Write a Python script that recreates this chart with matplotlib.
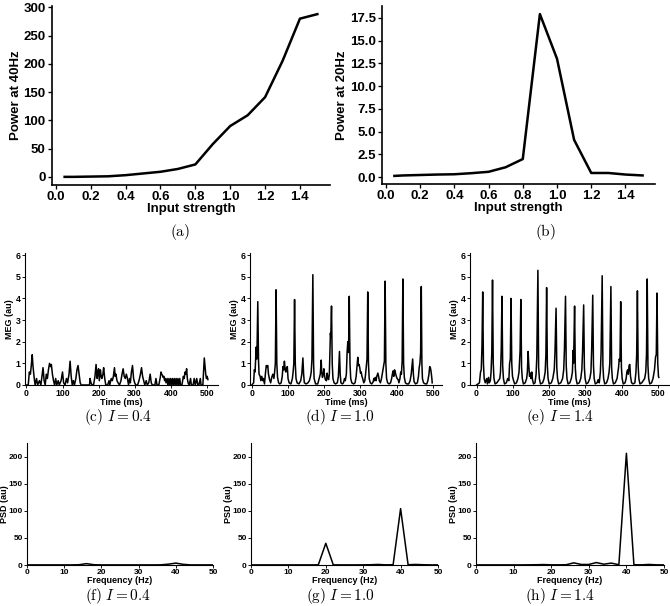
import matplotlib
matplotlib.use('Agg')
import matplotlib.pyplot as plt

plt.rcParams['font.family'] = ['Liberation Sans', 'DejaVu Sans']
plt.rcParams['font.weight'] = 'bold'
plt.rcParams['axes.labelweight'] = 'bold'
plt.rcParams['mathtext.fontset'] = 'cm'

# (a), (b): power vs input strength
input_strength = [0.05, 0.1, 0.2, 0.3, 0.4, 0.5, 0.6, 0.7, 0.8, 0.9, 1.0, 1.1, 1.2, 1.3, 1.4, 1.5]
power_40hz = [0, 0, 0.5, 1, 3, 6, 9, 14, 22, 58, 90, 109, 141, 205, 280, 288]
power_20hz = [0.15, 0.2, 0.25, 0.3, 0.33, 0.45, 0.6, 1.1, 2.0, 17.9, 13.0, 4.1, 0.47, 0.47, 0.3, 0.2]

# (c)-(e): MEG traces, (time ms, value au) vertices
meg_04 = [(0, 0), (5, 0), (8, 0.6), (11, 0.5), (14, 1.0), (16, 1.4), (18, 0.9), (21, 0.4), (24, 0),
          (28, 0.3), (31, 0), (36, 0.2), (40, 0), (43, 0.4), (46, 0.8), (49, 0.2), (52, 0), (55, 0.5),
          (58, 0.3), (61, 0.7), (64, 1.0), (67, 0.85), (69, 0.95), (72, 0.5), (75, 0.2), (78, 0),
          (81, 0.3), (84, 0), (88, 0.2), (91, 0), (96, 0.2), (100, 0.6), (103, 0.1), (107, 0),
          (111, 0.3), (114, 0.1), (118, 0.5), (121, 1.1), (124, 0.4), (127, 0), (130, 0.2), (133, 0),
          (137, 0.3), (140, 0.7), (143, 0.9), (146, 0.5), (149, 0.1), (152, 0), (175, 0), (176, 0.3),
          (179, 0.1), (182, 0), (186, 0), (190, 0.4), (193, 0.95), (196, 0.3), (198, 0.6), (200, 0.75),
          (202, 0.2), (205, 0.7), (207, 0.4), (209, 0.3), (212, 0.5), (214, 0.8), (217, 0.3), (220, 0),
          (225, 0), (229, 0.2), (231, 0), (235, 0.3), (238, 0.2), (241, 0.4), (244, 0.8), (246, 0.4),
          (248, 0.5), (251, 0.2), (254, 0.1), (258, 0), (262, 0.2), (265, 0.5), (268, 0.75), (271, 0.4),
          (274, 0.3), (277, 0.5), (280, 0.3), (283, 0), (286, 0.3), (288, 0.1), (291, 0.6), (294, 0.9),
          (297, 0.3), (300, 0.1), (303, 0), (308, 0), (312, 0.2), (316, 0.5), (319, 0.8), (322, 0.4),
          (325, 0.2), (328, 0), (332, 0.2), (335, 0), (339, 0.1), (343, 0.5), (346, 0.1), (349, 0),
          (356, 0), (359, 0.3), (362, 0), (367, 0), (371, 0.35), (373, 0.6), (375, 0.5), (377, 0.45),
          (379, 0.35), (381, 0.4), (383, 0.2), (385, 0.3), (387, 0.1), (390, 0.3), (392, 0), (395, 0.3),
          (397, 0), (400, 0.3), (402, 0), (405, 0.3), (407, 0), (410, 0.3), (412, 0), (415, 0.3),
          (417, 0), (420, 0.3), (422, 0), (425, 0.3), (427, 0), (431, 0), (435, 0.4), (437, 0.3),
          (440, 0.6), (442, 0.5), (444, 0.75), (446, 0.3), (448, 0.1), (451, 0), (455, 0.3), (457, 0),
          (462, 0), (465, 0.3), (468, 0), (472, 0.3), (475, 0), (478, 0), (482, 0.3), (484, 0),
          (489, 0), (491, 0.6), (493, 1.25), (495, 0.9), (497, 0.5), (499, 0.3), (501, 0.4), (503, 0.25)]

meg_10 = [(0, 0), (5, 0.1), (7, 0.7), (9, 0.6), (12, 1.75), (14, 1.2), (16.5, 3.85), (18.5, 1.15), (20, 0.5),
          (23, 0.4), (25, 0.2), (27.5, 0.4), (30, 0.2), (32, 0.3), (35, 0.05), (38, 0.6), (40, 0.9),
          (42, 0.85), (44, 0.9), (46, 0.5), (49, 0.25), (52, 0.1), (55, 0.35), (58, 0.5), (61, 0.3),
          (63, 0.6), (65, 1.0), (67, 4.4), (69, 1.0), (71, 0.35), (74, 0.1), (77, 0.05), (81, 0.1),
          (84, 0.4), (86, 0.85), (88, 0.7), (90, 1.1), (92, 0.7), (94, 0.6), (96, 0.8), (98, 0.85),
          (100, 0.3), (103, 0.1), (108, 0.05), (112, 0.3), (114, 0.6), (116, 1.0), (118, 3.95),
          (120, 1.0), (122, 0.3), (125, 0.1), (130, 0.05), (135, 0.2), (138, 0.5), (141, 1.25),
          (143, 0.5), (145, 0.1), (150, 0.05), (155, 0.1), (159, 0.2), (162, 0.4), (164, 0.6),
          (166, 1.2), (168.5, 5.1), (170.5, 1.0), (172, 0.3), (176, 0.05), (182, 0.05), (186, 0.3),
          (189, 0.5), (191.5, 1.15), (193, 0.6), (195, 0.35), (197, 0.5), (199, 0.75), (201, 0.4),
          (203, 0.25), (206, 0.2), (208, 0.55), (210, 0.3), (212, 0.25), (214, 0.5), (217, 2.4),
          (218, 2.2), (220, 3.65), (222, 1.0), (224, 0.3), (227, 0.1), (231, 0.05), (236, 0.1),
          (239, 0.4), (242, 1.55), (244, 0.5), (246, 0.1), (250, 0.05), (253, 0.1), (256, 0.3),
          (258, 0.2), (261, 0.5), (263, 1.5), (265, 2.0), (267, 1.5), (269, 4.1), (271, 1.0),
          (273, 0.3), (276, 0.1), (281, 0.05), (285, 0.1), (288, 0.4), (290, 0.8), (292.5, 1.28),
          (294, 0.9), (296, 0.95), (298, 0.8), (300, 0.55), (302, 0.6), (304, 0.4), (306, 0.3),
          (309, 0.1), (312, 0.2), (314, 0.5), (316, 0.85), (318, 1.2), (320, 4.3), (322, 1.0),
          (324, 0.3), (327, 0.1), (331, 0.05), (335, 0.15), (337, 0.3), (339, 0.2), (341, 0.35),
          (343, 0.2), (345, 0.4), (348, 0.55), (350, 0.4), (352, 0.2), (355, 0.1), (358, 0.3),
          (361, 0.6), (364, 0.9), (366, 1.1), (368, 4.8), (370, 1.0), (372, 0.3), (375, 0.1),
          (379, 0.05), (383, 0.1), (386, 0.3), (388, 0.5), (390, 0.65), (392, 0.4), (394, 0.7),
          (396, 0.6), (398, 0.45), (401, 0.3), (404, 0.25), (406, 0.1), (409, 0.3), (411, 0.6),
          (413, 0.5), (415, 1.1), (417, 4.9), (419, 1.0), (421, 0.35), (424, 0.1), (428, 0.05),
          (433, 0.05), (437, 0.2), (440, 0.5), (442, 0.85), (444, 1.2), (446, 0.5), (448, 0.15),
          (452, 0.05), (457, 0.1), (460, 0.4), (462, 0.8), (464, 1.0), (466, 1.5), (467.8, 4.55),
          (469.5, 1.0), (471, 0.3), (474, 0.1), (479, 0.05), (483, 0.05), (486, 0.2), (489, 0.5),
          (491, 0.85), (493, 0.8), (495, 0.6), (497, 0.3), (498, 0.1)]

meg_14 = [(0, 0), (8, 0.1), (11, 0.6), (13, 0.7), (15, 1.8), (17, 4.3), (19, 1.0), (21, 0.3), (24, 0.1),
          (28, 0.3), (30, 0.05), (33, 0.35), (35, 0.1), (38, 0.2), (40, 0.6), (42, 1.5), (44, 4.85),
          (46, 1.0), (48, 0.3), (51, 0.05), (56, 0.1), (60, 0.2), (64, 0.3), (66, 0.6), (68, 1.6),
          (70, 4.1), (72, 0.9), (74, 0.3), (77, 0.05), (82, 0.1), (86, 0.3), (89, 0.2), (91, 1.0),
          (93, 1.2), (95, 4.0), (97, 1.0), (99, 0.4), (102, 0.2), (105, 0.05), (110, 0.1), (114, 0.3),
          (117, 0.6), (120, 1.6), (122, 3.95), (124, 0.8), (126, 0.3), (129, 0.05), (134, 0.1),
          (138, 0.3), (140, 0.6), (142, 1.55), (144, 0.9), (146, 0.4), (148, 0.55), (150, 0.3),
          (152, 0.6), (154, 0.25), (157, 0.05), (161, 0.1), (164, 0.5), (166, 1.3), (169, 5.3),
          (171, 0.8), (173, 0.3), (176, 0.05), (182, 0.1), (186, 0.3), (189, 0.6), (191, 1.4),
          (193, 4.5), (195, 0.9), (197, 0.3), (200, 0.05), (206, 0.1), (210, 0.3), (214, 0.7),
          (216, 1.5), (219, 3.55), (221, 0.8), (223, 0.3), (226, 0.05), (232, 0.1), (237, 0.3),
          (240, 0.7), (242, 1.6), (245, 4.1), (247, 0.9), (249, 0.3), (252, 0.05), (257, 0.1),
          (261, 0.3), (264, 0.6), (266, 1.6), (267, 1.0), (268, 1.7), (270, 3.65), (272, 0.8),
          (274, 0.3), (277, 0.05), (283, 0.1), (287, 0.3), (290, 0.7), (292, 1.55), (295, 3.7),
          (297, 0.8), (299, 0.3), (302, 0.05), (307, 0.1), (312, 0.3), (315, 0.6), (317, 1.6),
          (320, 4.15), (322, 0.9), (324, 0.3), (327, 0.05), (332, 0.1), (335, 0.25), (338, 0.1),
          (341, 0.6), (343, 1.5), (346, 5.05), (348, 0.9), (350, 0.3), (353, 0.05), (358, 0.1),
          (362, 0.3), (365, 0.6), (367, 1.0), (370, 4.55), (372, 0.8), (374, 0.3), (377, 0.05),
          (382, 0.1), (387, 0.3), (391, 0.8), (393, 1.2), (395, 1.1), (397, 3.85), (399, 0.8),
          (401, 0.3), (404, 0.05), (409, 0.1), (412, 0.3), (414, 0.6), (416, 0.7), (418, 0.5),
          (420, 0.9), (422, 0.95), (424, 0.4), (427, 0.1), (431, 0.05), (436, 0.1), (439, 0.6),
          (441, 1.4), (443, 4.35), (445, 0.9), (447, 0.3), (450, 0.05), (455, 0.1), (459, 0.2),
          (463, 0.3), (466, 0.6), (468, 1.4), (470, 4.9), (472, 0.9), (474, 0.3), (477, 0.05),
          (482, 0.1), (486, 0.3), (490, 0.7), (493, 1.3), (495, 1.4), (497, 4.25), (499, 1.0),
          (501, 0.4), (502, 0.35)]

# (f)-(h): power spectra, 2 Hz bins
freqs = [0, 2, 4, 6, 8, 10, 12, 14, 16, 18, 20, 22, 24, 26, 28, 30, 32, 34, 36, 38, 40, 42, 44, 46, 48, 50]
psd_04 = [0.2, 0.2, 0.2, 0.2, 0.2, 0.2, 0.2, 0.5, 2.5, 0.5, 0.2, 0.2, 0.2, 0.2, 0.2, 0.2, 0.2, 0.2, 0.3,
          1.5, 3.5, 1.2, 0.2, 0.2, 0.2, 0.2]
psd_10 = [0.2, 0.2, 0.2, 0.2, 0.2, 0.2, 0.2, 0.2, 0.2, 0.3, 40, 0.3, 0.2, 0.2, 0.2, 0.3, 0.5, 1.0, 0.3,
          0.5, 104, 0.5, 1.0, 0.5, 0.2, 0.2]
psd_14 = [0.2, 0.2, 0.2, 0.2, 0.2, 0.2, 0.2, 0.3, 0.5, 0.8, 0.3, 0.3, 0.5, 4.0, 1.0, 1.0, 4.5, 1.5, 3.5,
          0.5, 206, 0.5, 0.3, 1.0, 0.3, 0.2]

W, H = 670, 606
fig = plt.figure(figsize=(W / 100, H / 100), dpi=100)


def px_axes(left, top, right, bottom):
    return fig.add_axes([left / W, 1 - bottom / H, (right - left) / W, (bottom - top) / H])


def style(ax, tick_size, spine_w, tick_len, pad=1.5):
    for s in ['top', 'right']:
        ax.spines[s].set_visible(False)
    for s in ['left', 'bottom']:
        ax.spines[s].set_linewidth(spine_w)
    ax.tick_params(labelsize=tick_size, width=spine_w * 0.8, length=tick_len, pad=pad)
    for lab in ax.get_xticklabels() + ax.get_yticklabels():
        lab.set_fontweight('bold')


def caption(x, y, text):
    fig.text(x / W, 1 - y / H, text, ha='center', va='center', fontsize=11)


# top row
ax = px_axes(52, 6, 330, 185)
ax.plot(input_strength, power_40hz, color='black', lw=1.8)
ax.set_xticks([0.0, 0.2, 0.4, 0.6, 0.8, 1.0, 1.2, 1.4])
ax.set_yticks([0, 50, 100, 150, 200, 250, 300])
ax.set_xlabel('Input strength', fontsize=9.5, labelpad=0)
ax.set_ylabel('Power at 40Hz', fontsize=9.5, labelpad=1)
style(ax, 9.5, 1.2, 3)
caption(180, 232, r'$\mathrm{(a)}$')

ax = px_axes(382, 6, 655, 184)
ax.plot(input_strength, power_20hz, color='black', lw=1.8)
ax.set_xticks([0.0, 0.2, 0.4, 0.6, 0.8, 1.0, 1.2, 1.4])
ax.set_yticks([0, 2.5, 5, 7.5, 10, 12.5, 15, 17.5])
ax.set_yticklabels(['0.0', '2.5', '5.0', '7.5', '10.0', '12.5', '15.0', '17.5'])
ax.set_xlabel('Input strength', fontsize=9.5, labelpad=0)
ax.set_ylabel('Power at 20Hz', fontsize=9.5, labelpad=1)
style(ax, 9.5, 1.2, 3)
caption(545, 232, r'$\mathrm{(b)}$')

# middle row: MEG
meg_panels = [(meg_04, (25, 218), (-4, 531), 118, '(c)', '0.4'),
              (meg_10, (250, 442), (-5, 525), 340, '(d)', '1.0'),
              (meg_14, (470, 669), (-18, 530), 560, '(e)', '1.4')]
for trace, (l, r), xl, cx, tag, lev in meg_panels:
    ax = px_axes(l, 253, r, 385)
    t = [p[0] for p in trace]
    v = [p[1] for p in trace]
    ax.plot(t, v, color='black', lw=1.1)
    ax.set_xlim(*xl)
    ax.set_ylim(0, 6.1)
    ax.set_xticks([0, 100, 200, 300, 400, 500])
    ax.set_yticks([0, 1, 2, 3, 4, 5, 6])
    ax.set_xlabel('Time (ms)', fontsize=6.5, labelpad=0)
    ax.set_ylabel('MEG (au)', fontsize=6.5, labelpad=1)
    style(ax, 6.3, 0.8, 2, pad=1)
    caption(cx, 417, r'$\mathrm{' + tag + r'}\ I = ' + lev + '$')

# bottom row: PSD
psd_panels = [(psd_04, (27, 213), 118, '(f)', '0.4'),
              (psd_10, (251, 438), 340, '(g)', '1.0'),
              (psd_14, (476, 664), 560, '(h)', '1.4')]
for vals, (l, r), cx, tag, lev in psd_panels:
    ax = px_axes(l, 443, r, 565)
    ax.plot(freqs, vals, color='black', lw=1.1)
    ax.set_xlim(0, 50)
    ax.set_ylim(0, 225)
    ax.set_xticks([0, 10, 20, 30, 40, 50])
    ax.set_yticks([0, 50, 100, 150, 200])
    ax.set_xlabel('Frequency (Hz)', fontsize=6.5, labelpad=0)
    ax.set_ylabel('PSD (au)', fontsize=6.5, labelpad=0)
    style(ax, 6, 0.8, 2, pad=1)
    caption(cx, 596, r'$\mathrm{' + tag + r'}\ I = ' + lev + '$')

fig.savefig('out.png', dpi=100)
